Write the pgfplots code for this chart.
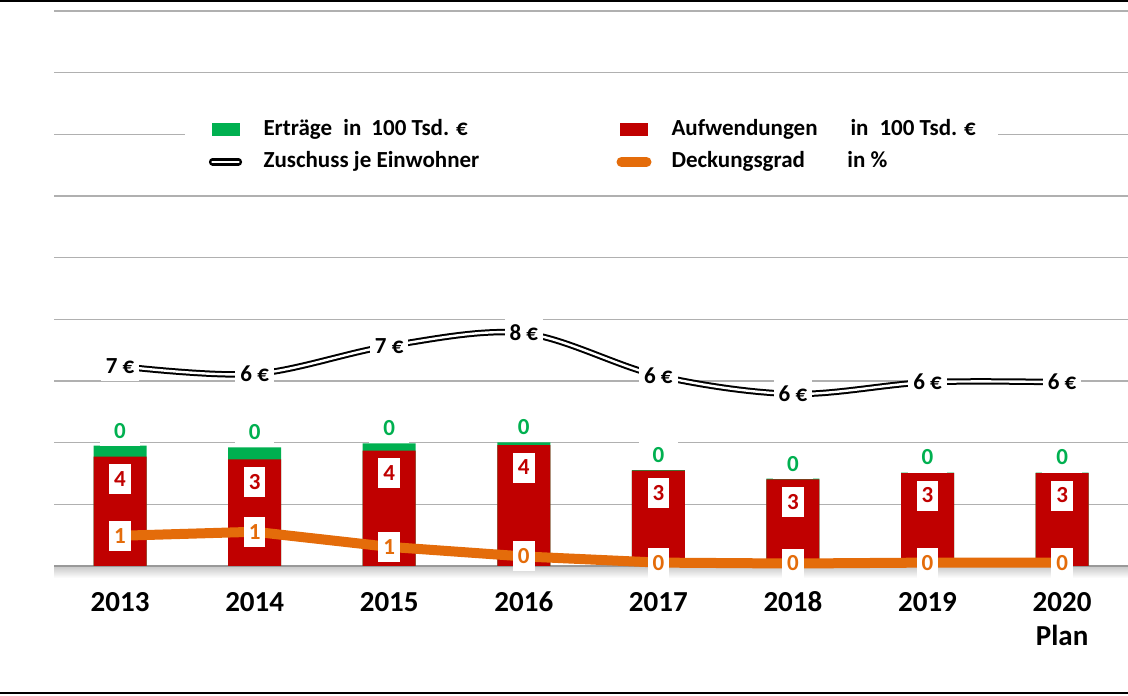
\documentclass[border=0pt]{standalone}
\usepackage{pgfplots}
\pgfplotsset{compat=1.18}
\usepackage{pgfplotstable}
\usepackage{fontspec}
\setmainfont{Carlito}
\definecolor{cRed}{HTML}{C00000}
\definecolor{cGreen}{HTML}{00B050}
\definecolor{cOrange}{HTML}{E46C0A}
\definecolor{cGrid}{HTML}{B0B0B0}
\tikzset{lab/.style={fill=white, inner xsep=2.5pt, inner ysep=3.8pt, text height=7.4pt, text depth=0pt, font=\fontsize{11.5}{13}\selectfont\bfseries}}
\pgfplotsset{geom/.style={at={(27pt,64.5pt)}, anchor=south west, scale only axis, width=537pt, height=277.5pt,
  xmin=-0.491, xmax=7.49, ymin=0, ymax=18, clip=false}}
% Aufwendungen (red) and Ertraege (green), in 100 Tsd. EUR
\pgfplotstableread{
x red green rl gl
0 3.55 0.35 4 0
1 3.46 0.39 3 0
2 3.74 0.24 4 0
3 3.92 0.09 4 0
4 3.09 0.02 3 0
5 2.81 0.02 3 0
6 3.01 0.02 3 0
7 3.01 0.02 3 0
}\bars
\begin{document}
\begin{tikzpicture}
\useasboundingbox (0,0) rectangle (564pt,347.5pt);
\begin{axis}[geom,
  ybar, bar width=26.5pt, bar shift=0pt,
  axis line style={draw=none},
  ytick={2,4,...,18}, yticklabels={}, ymajorgrids, grid style={cGrid, line width=0.6pt},
  xtick={0,...,7},
  xticklabels={\rule{0pt}{10pt}2013,\rule{0pt}{10pt}2014,\rule{0pt}{10pt}2015,\rule{0pt}{10pt}2016,\rule{0pt}{10pt}2017,\rule{0pt}{10pt}2018,\rule{0pt}{10pt}2019,{\rule{0pt}{10pt}2020\\Plan}},
  major tick length=0pt,
  xticklabel style={font=\fontsize{14.5}{17}\selectfont\bfseries, align=center, anchor=north, inner sep=0pt, yshift=-12.5pt},
]
\fill[top color=black!22, bottom color=white, draw=none] (rel axis cs:0,0) rectangle ([yshift=-6pt]rel axis cs:1,0);
\draw[black!40, line width=0.7pt] (rel axis cs:0,0) -- (rel axis cs:1,0);
\addplot[fill=cGreen, draw=none, nodes near coords, point meta=explicit symbolic,
  every node near coord/.style={lab, inner xsep=7pt, text=cGreen, anchor=center, yshift=7.5pt}]
  table[x=x, y expr=\thisrow{red}+\thisrow{green}, meta=gl] {\bars};
\addplot[fill=cRed, draw=none, nodes near coords, point meta=explicit symbolic,
  every node near coord/.style={lab, text=cRed, anchor=north, yshift=-3.5pt}]
  table[x=x, y=red, meta=rl] {\bars};
\end{axis}
\begin{axis}[geom, hide axis,
  legend columns=2, legend cell align=left,
  legend style={at={(0.5,0.7568)}, anchor=center, draw=none, fill=white, inner xsep=12pt, inner ysep=6pt,
    column sep=0pt, row sep=5pt, font=\fontsize{11.5}{13}\selectfont\bfseries,
    nodes={inner sep=0pt, text height=8.5pt, text depth=2.5pt}},
]
\addlegendimage{legend image code/.code={\path[draw=none, fill=none] (0,-4pt) rectangle (17pt,4pt); \fill[cGreen, draw=none] (1.5pt,-3.25pt) rectangle (15.5pt,3.25pt);}}
\addlegendentry{\hspace*{10.5pt}\makebox[176.5pt][l]{\makebox[40pt][l]{Erträge}\makebox[14pt][l]{in}100 Tsd. €}}
\addlegendimage{legend image code/.code={\path[draw=none, fill=none] (0,-4pt) rectangle (17pt,4pt); \fill[cRed, draw=none] (1.5pt,-3.25pt) rectangle (15.5pt,3.25pt);}}
\addlegendentry{\hspace*{10pt}\makebox[151pt][l]{\makebox[89.5pt][l]{Aufwendungen}\makebox[14.5pt][l]{in}100 Tsd. €}}
\addlegendimage{legend image code/.code={\path[draw=none, fill=none] (0,-4pt) rectangle (17pt,4pt); \draw[black, line width=1.1pt, double=white, double distance=1.4pt, line cap=round] (2pt,0) -- (15pt,0);}}
\addlegendentry{\hspace*{10.5pt}\makebox[176.5pt][l]{Zuschuss je Einwohner}}
\addlegendimage{legend image code/.code={\path[draw=none, fill=none] (0,-4pt) rectangle (17pt,4pt); \draw[cOrange, line width=5pt, line cap=round] (2.5pt,0) -- (15pt,0);}}
\addlegendentry{\hspace*{10pt}\makebox[151pt][l]{\makebox[88pt][l]{Deckungsgrad}in \%}}
\addplot[cOrange, line width=5pt, mark=none, forget plot, nodes near coords, point meta=explicit symbolic,
  every node near coord/.style={lab, text=cOrange, anchor=center}]
  coordinates {(0,0.98)[1] (1,1.11)[1] (2,0.62)[1] (3,0.31)[0] (4,0.11)[0] (5,0.08)[0] (6,0.11)[0] (7,0.11)[0]};
\addplot[black, line width=1pt, double=white, double distance=1.2pt, smooth, tension=0.55, mark=none, forget plot,
  nodes near coords, point meta=explicit symbolic,
  every node near coord/.style={lab, text=black, anchor=center}]
  coordinates {(0,6.48)[7 €] (1,6.23)[6 €] (2,7.14)[7 €] (3,7.55)[8 €] (4,6.17)[6 €] (5,5.58)[6 €] (6,5.96)[6 €] (7,5.96)[6 €]};
\end{axis}
\draw[black, line width=1pt] (0,347pt) -- (564pt,347pt);
\draw[black, line width=1pt] (0,1pt) -- (564pt,1pt);
\end{tikzpicture}
\end{document}
